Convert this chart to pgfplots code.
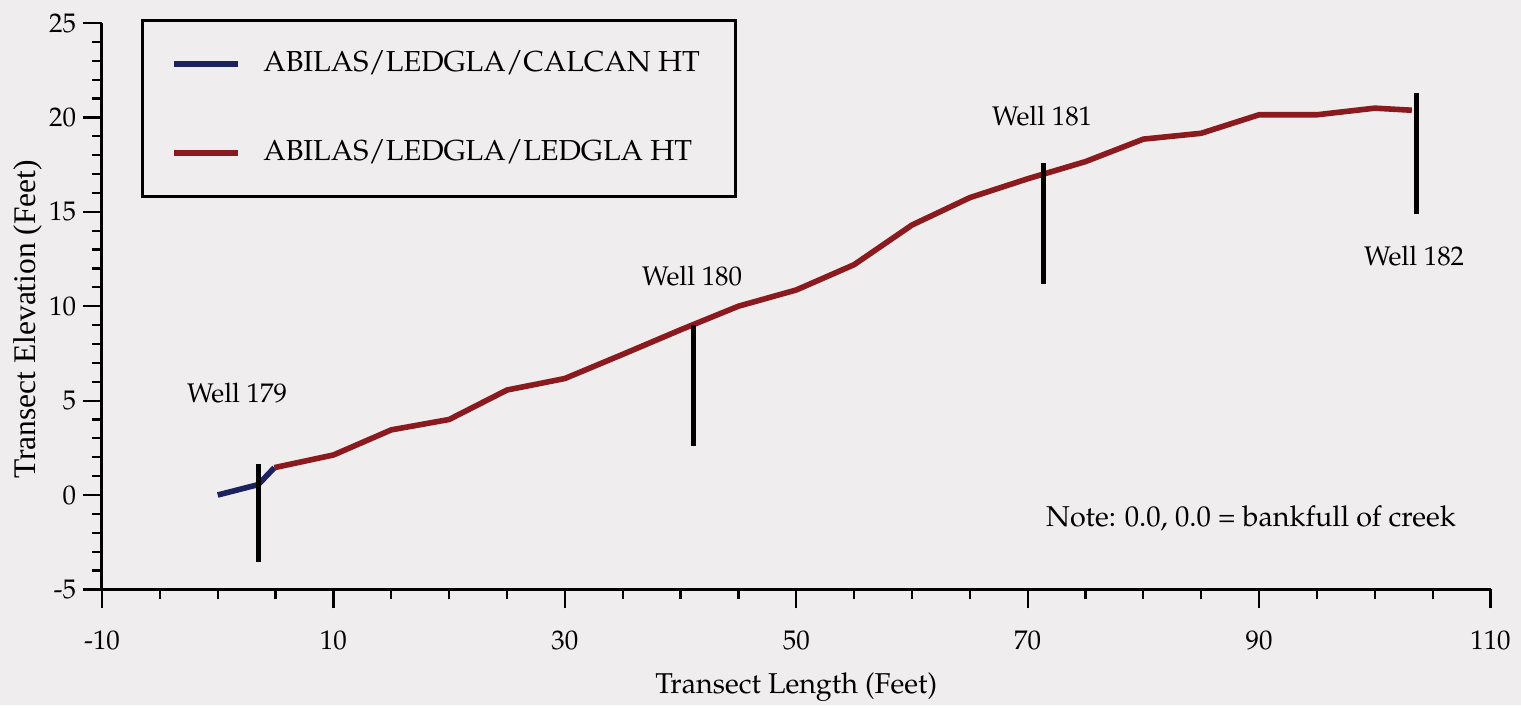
\documentclass[border=0pt]{standalone}
\usepackage{fontspec}
\newfontfamily\ylabfont{Liberation Serif}
\usepackage[T1]{fontenc}
\usepackage{mathpazo}
\usepackage{pgfplots}
\pgfplotsset{compat=1.18}
\definecolor{bgc}{HTML}{EFEDEE}
\definecolor{navyline}{HTML}{1C2160}
\definecolor{redline}{HTML}{8A1A1E}
\newcommand{\ft}[1]{\fontsize{#1}{#1}\selectfont}
\begin{document}
\begin{tikzpicture}
\fill[bgc] (-51bp,-57.8bp) rectangle (709.5bp,294.7bp);
\begin{axis}[
  scale only axis, width=694.25bp, height=283.2bp,
  xmin=-10, xmax=110, ymin=-5, ymax=25,
  axis x line*=bottom, axis y line*=left,
  axis line style={line width=1.5bp, black, -},
  xtick={-10,10,...,110}, ytick={-5,0,...,25},
  minor x tick num=3, minor y tick num=4,
  tick align=outside, major tick length=9.5bp, minor tick length=5bp,
  every tick/.style={line width=1.1bp, black},
  /pgf/number format/assume math mode=true,
  tick label style={font=\ft{13.5}},
  xticklabel style={anchor=center, yshift=-16bp},
  clip=false,
  xlabel={Transect Length (Feet)},
  every axis x label/.style={at={(axis cs:50,-5)}, anchor=base, yshift=-51.8bp, font=\ft{14.4}},
  ylabel={\ylabfont Transect Elevation (Feet)},
  every axis y label/.style={at={([xshift=-37bp]axis cs:-10,9.3)}, anchor=center, rotate=90, font=\ft{15.8}},
  legend style={at={(axis cs:-6.63,25.21)}, anchor=north west, draw=black, line width=1.3bp, fill=none,
    inner xsep=14.5bp, inner ysep=14.5bp, row sep=30bp, column sep=0pt,
    font=\ft{14.5},
    nodes={inner sep=0pt, text height=11bp, text depth=3.5bp}},
  legend cell align=left,
  legend image code/.code={\draw[#1, line width=3bp] (0bp,0bp) -- (32bp,0bp);},
]
\addplot[navyline, line width=2.8bp] coordinates {(0,0) (3.5,0.55) (4.9,1.45)};
\addlegendentry{\hspace{11bp}\makebox[221.5bp][l]{ABILAS/LEDGLA/CALCAN HT}}
\addplot[redline, line width=2.8bp] coordinates {
 (4.9,1.45) (10,2.12) (15,3.45) (20,4.0) (25,5.56) (30,6.17) (35,7.45) (40,8.75)
 (45,10.0) (50,10.86) (55,12.2) (60,14.3) (65,15.75) (70,16.75) (75,17.66)
 (80,18.85) (85,19.16) (90,20.14) (95,20.14) (100,20.49) (103.2,20.38)};
\addlegendentry{\hspace{11bp}\makebox[221.5bp][l]{ABILAS/LEDGLA/LEDGLA HT}}
\addplot[black, line width=2.5bp, forget plot] coordinates {(3.5,-3.55) (3.5,1.65)};
\addplot[black, line width=2.5bp, forget plot] coordinates {(41.1,2.6) (41.1,9.0)};
\addplot[black, line width=2.5bp, forget plot] coordinates {(71.4,11.2) (71.4,17.6)};
\addplot[black, line width=2.5bp, forget plot] coordinates {(103.6,14.9) (103.6,21.3)};
\node[font=\ft{13.5}] at (axis cs:1.67,5.40) {Well 179};
\node[font=\ft{13.5}] at (axis cs:41.0,11.6) {Well 180};
\node[font=\ft{13.5}] at (axis cs:71.25,20.07) {Well 181};
\node[font=\ft{13.5}] at (axis cs:103.4,12.66) {Well 182};
\node[font=\ft{14.4}, anchor=east] at (axis cs:107.6,-1.22) {Note: 0.0, 0.0 = bankfull of creek};
\end{axis}
\end{tikzpicture}
\end{document}
